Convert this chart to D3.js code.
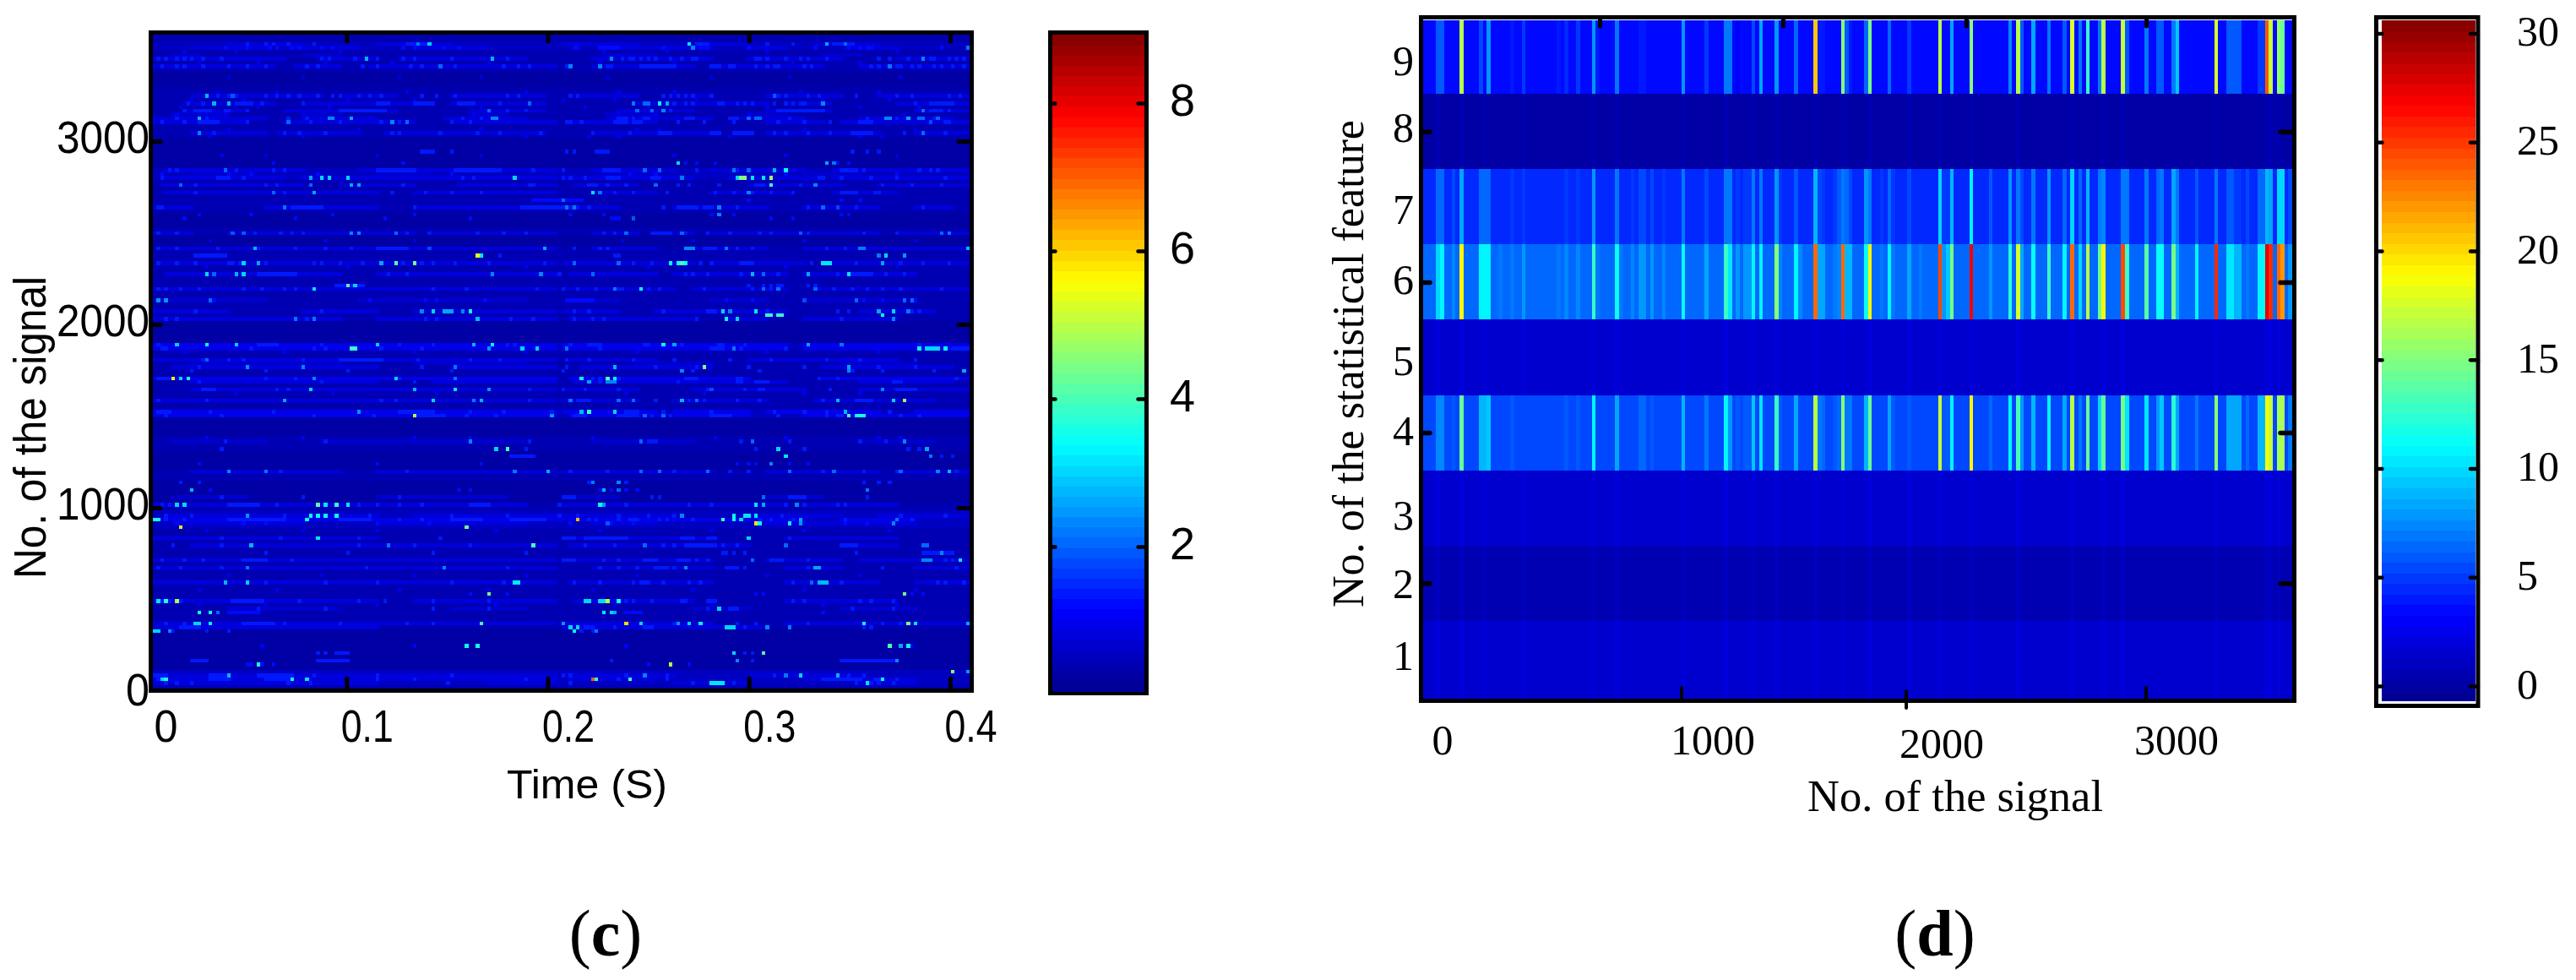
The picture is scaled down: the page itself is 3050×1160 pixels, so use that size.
<!DOCTYPE html>
<html>
<head>
<meta charset="utf-8">
<title>Signal maps</title>
<script src="https://cdn.jsdelivr.net/npm/d3@7/dist/d3.min.js"></script>
<style>
  html, body { margin: 0; padding: 0; background: #fff; }
  svg { display: block; }
  .sans text { font-family: "Liberation Sans", Arial, sans-serif; fill: #000; }
  .serif text { font-family: "Liberation Serif", "Times New Roman", serif; fill: #000; }
</style>
</head>
<body>
<svg id="chart" width="3050" height="1160"></svg>
<script>
// ---- panel (c) values ----
const timeTicks = [0, 0.1, 0.2, 0.3, 0.4];
const signalTicksC = [0, 1000, 2000, 3000];
const colorTicksC = [2, 4, 6, 8];

// background level of each row of the map, top row first
const rowBase = [
  .35,.35,.5,.5,.35,.35,.45,.45,.45,.35,.25,.25,.25,.25,.35,.35,.45,.45,.45,.45,.45,.45,.45,.45,.4,.4,.4,.4,.2,.2,.2,.2,.2,.2,.3,.3,
  .5,.5,.5,.45,.45,.45,.45,.35,.35,.4,.4,.4,.3,.3,.3,.3,.4,.4,.3,.3,.3,.4,.4,.4,.4,.4,.4,.4,.4,.4,.4,.4,
  .4,.35,.35,.35,.35,.45,.45,.45,.45,.25,.25,.25,.25,.25,.25,.5,.5,.45,.45,.45,.45,.45,.45,.45,.45,.45,.45,.45,.45,.4,.4,.4,.4,.55,.55,.2,.2,
  .2,.2,.2,.35,.35,.35,.35,.3,.3,.3,.3,.3,.35,.35,.35,.3,.3,.3,.3,.3,.3,.4,.4,.5,.5,.5,.5,.5,.4,.4,.4,.4,
  .4,.4,.4,.4,.4,.4,.35,.35,.35,.35,.35,.35,.4,.4,.4,.4,.4,.4,.4,.4,.4,.4,.4,.2,.2,.2,.2,.25,.25,.25,.25,.25,.25,
  .25,.5,.5,.5,.5,.35
];

// long faint stretches along the busier rows: row from the top, level, columns
const faintRows = [
  [2,.8,"20-40 60-80 110-130 145-160 178-195"],
  [3,.8,"10-30 35-55 70-90 120-150 160-170 186-200"],
  [5,.65,"5-12 40-50 120-135 180-190"],
  [6,.85,"0-35 44-60 66-100 118-150 160-185 200-219"],
  [8,.85,"0-32 38-50 58-108 118-145 150-180 190-219"],
  [16,.85,"10-45 50-65 80-105 112-130 140-150 165-185 195-219"],
  [18,.85,"8-32 40-70 80-105 130-165 170-182 200-219"],
  [20,.85,"8-25 35-65 85-105 125-145 165-182 205-219"],
  [21,.7,"5-20 40-50 85-95 122-135 160-170"],
  [22,.85,"0-30 40-60 78-100 122-150 155-175 190-215"],
  [23,.85,"0-25 35-70 80-108 111-135 165-180 185-219"],
  [26,.8,"10-30 33-55 62-105 118-150 165-195 205-219"],
  [36,.8,"3-40 55-108 118-140 150-175 183-219"],
  [37,.7,"10-25 60-75 120-135 175-190"],
  [38,.85,"3-35 40-108 110-145 155-180 183-219"],
  [40,.8,"2-40 50-70 82-108 113-130 160-185 195-219"],
  [42,.8,"3-60 70-108 118-135 150-172 183-200"],
  [46,.8,"0-10 30-60 70-108 110-125 140-165 175-195 205-215"],
  [53,.85,"0-10 20-70 75-108 118-130 134-145 150-195 200-219"],
  [57,.8,"2-108 118-135 143-165 175-219"],
  [61,.85,"2-108 110-145 150-175 180-219"],
  [64,.8,"3-50 60-108 112-135 140-170 175-205"],
  [68,.85,"0-108 110-140 145-170 178-219"],
  [71,.7,"0-30 55-100 112-125 150-165 175-205"],
  [74,.85,"0-20 40-60 70-108 110-125 135-170 190-210"],
  [76,.85,"0-50 60-108 112-145 155-165 175-200"],
  [83,.9,"0-108 110-170 175-219"],
  [84,.9,"0-108 110-170 175-219"],
  [87,.8,"0-108 112-135 160-200"],
  [88,.7,"10-50 70-100 130-150 185-205"],
  [89,.8,"5-60 80-108 115-150 180-215"],
  [92,.9,"0-108 112-160 180-219"],
  [93,.8,"10-60 75-108 113-170 190-215"],
  [95,.85,"10-108 110-130 145-175 190-219"],
  [98,.85,"0-108 110-130 140-165 178-210"],
  [101,.9,"0-108 110-135 140-160 165-195 205-219"],
  [102,.9,"0-108 112-160 175-219"],
  [109,.7,"5-30 45-100 118-145 190-210"],
  [117,.8,"10-50 60-108 110-150 165-195 200-219"],
  [124,.7,"5-25 60-95 110-125 165-180"],
  [126,.85,"0-100 110-170 175-200"],
  [129,.8,"3-60 70-108 110-140 160-185 195-219"],
  [130,.9,"0-110 112-175 185-205"],
  [131,.75,"5-40 60-100 118-135 165-205"],
  [135,.75,"0-60 110-150 170-200"],
  [137,.8,"10-108 112-160 185-200"],
  [141,.8,"0-108 110-150 165-185 190-219"],
  [143,.8,"0-108 118-150 170-185 205-219"],
  [147,.8,"0-108 112-150 170-195 205-219"],
  [152,.85,"0-60 70-108 113-145 170-200"],
  [154,.7,"20-50 80-100 145-160 185-205"],
  [158,.85,"0-108 110-150 170-219"],
  [159,.8,"0-60 110-165"],
  [172,.85,"0-108 110-140 160-190"],
  [173,.85,"0-108 112-135 175-205"],
  [174,.85,"0-60 90-108 140-160 190-205"]
];

// rows of lit cells: row from the top, level, columns
const litRows = [
  [2,1.3,"25 30 32 36 43 68-70 72 73 146-149 165 172 183-188"],
  [3,1.2,"19 25 31 33 37 39 45 48 67 70 78 82 113 114 120-125 137 147-149 160 178 187 190 192 193 212"],
  [4,1,"8 22 50 121 138 165 200"],
  [6,1.4,"1 3 6 8 10 13 18 45 47 54 60 67 70 80 95 126 128 129 131 133 135 139 142 145 146 162 163 165 170 174 176 181 195 198 203 209 210 214 216 218"],
  [7,1,"12 28 46 64 90 120 140 172 190"],
  [8,1.4,"2 6 8 13 20 25 30 41 44 56 60 69 72 81 94 98 101 111 120 122 123 131-140 150-152 155 156 162 165 167 168 175 177 193 195 200 201 204 206 210 212 215 218"],
  [11,.8,"20 40 66 88 122 150 171 201"],
  [15,1,"17 33 68 100 125 140 174 195"],
  [16,1.3,"17 20 22 30 33 36 39 44 48 50 55 58 61 72 76 81 95 98 112 114 137 139 141 143 145 150 167 168 170 176 179 189 200 204 214 217"],
  [17,1,"10 24 52 70 110 124 146 180 198"],
  [18,1.4,"9 13 22-26 29 40 60-63 70-75 82-86 93 138 140 143 145 152 153 157 159 161 167 170 172 174 175 205 209-215"],
  [19,1,"7 28 47 88 116 133 165 190 206"],
  [20,1.3,"8 11-15 19 20 25 50-62 90 95 100 139 168-180 209-212 214"],
  [21,1,"6 14 17 19 40 86 90 125 135 160 202"],
  [22,1.4,"6 14 36 41 47 83 88 125-127 129 132 133 143-145 155-157 171 192 200 210"],
  [23,1.3,"2 8 12-17 25 36 42 50 61 66 80 85 111 112 115 124-127 129-131 141 148 156 168 175 182 190-193 213 214"],
  [25,1,"20 55 88 130 136 175 205"],
  [26,1.4,"16 35 39 46 64 66 77 87 93 104 118 128 136-139 150-152 156-161 167 170 176 182 188-193 202 213"],
  [27,1,"15 40 100 117 125 155 190 196"],
  [31,1.3,"72-75 80 111 113 119-122 188 192 195"],
  [32,.9,"18 30 60 88 140 170 200"],
  [34,1.2,"32 67 143 146 151 183 184 187"],
  [36,1.4,"4 6 19 22 32 35 60-70 81-93 102 110 121-125 146 157 185-189 191 206 209 211"],
  [37,1.2,"2 20 26 44 80 128 135 170 200"],
  [38,1.4,"2 17-20 24 83 86 110 112 116 122-125 134-136 179 180 185 193 200 213"],
  [40,1.4,"11 30 33 42 67 101 102 117-119 122 127 141 144 152 162-164 174 196 204 212"],
  [42,1.3,"11 35 64 73 80 88 120 124 129 138 151 156 161 166 172 185-189 194 195"],
  [44,1.2,"102-114 115 160 185 190"],
  [46,1.4,"1 2 37-45 70 99-114 117 137 141-146 148-150 157 176 189 207"],
  [48,1.2,"12 26 48 70 112 121 150 156 185 187"],
  [49,1.2,"8 38 62 85 123-125 166 172"],
  [53,1.4,"1 6 24 27 34 37 40 65 68 74 87 94 100 121 124 134-139 143 149 155 163 166 174 176 191 200"],
  [55,1,"15 46 70 126 145 175 205"],
  [57,1.3,"1 6 17 28 38 46 53 60-68 113 120 122 148-151 157 161 181 186"],
  [59,1.3,"11-19 93 124 125"],
  [61,1.4,"1 6 11 20 21 23 30 43 45 50 56 67 72 75 81 90 105 113 125 129 134 147 150 158-161 177 189 201 207 214"],
  [62,1,"14 52 100 133 170 200"],
  [64,1.4,"28-38 63 68 109 143 145 149 158 168 184 188-193 197 202"],
  [67,1.4,"49-56 160 164 166 168 169 176 178"],
  [68,1.4,"1 3 7 12 24 29 35 38 75 84 103 110 114 119 124-126 133 136 148 161 166 183 188 192 196 201 212"],
  [71,1.2,"16 58 73 76 89 111-118 154 161 191 196 205"],
  [74,1.4,"11 45 113 117 137 149-151 165 184 187 204 206"],
  [76,1.4,"3 6 38 41 73 76 96 102 113 118 121 146 185"],
  [83,1.4,"1 28-33 45 66 75 86 95 97 112 117-120 132 133 142 152-153 159 206"],
  [84,1.4,"2 3 26 43 46 61 72 111 120 150-153 158 170 215-220"],
  [85,1,"8 35 70 100 130 165 195"],
  [87,1.3,"13 20 24 40 50-61 71 85 93 111 117 129 140 155 166 181 190 205"],
  [89,1.4,"12 25 40 72 81 111 124 135 146 160 175 195 205"],
  [90,1.3,"10 30 52 80 110 145 163 188 196 210"],
  [92,1.4,"1-4 30 38 66 115 118 120 125 143-146 157 158 179 184 216"],
  [93,1.4,"12 45 70 117 120 141 157 158 162-165 199-201"],
  [95,1.3,"13-16 33 36 101 110 116 125 149 150 159 163 164 182 200-205"],
  [96,1,"22 48 76 127 148 175 190"],
  [98,1.4,"1 14 35 61 65 101 114-117 135 144 148 157 163 180 189-193"],
  [101,1.4,"1-4 15 32 55 66-75 85 94 107 127-130 137 150 167 175 181 198"],
  [102,1.4,"3 18 43 59 70-78 84 92 113-116 125-130 134 137 139 150-155 168 181 184 185 201 206"],
  [108,1.1,"14 40 70 85 118 151 170 195 201"],
  [109,1.3,"19 46 85 101 133-135 158 171 190 197"],
  [111,1.3,"18 92 95 100 162 175 203 206"],
  [113,1.3,"96-102 209 212 215"],
  [115,1.2,"12 60 88 157 160 162 171 176"],
  [117,1.4,"34 68 97 112 122 131 136 140 155 160 180 191 200 216"],
  [120,1.3,"7 12 117 127 191 195 198"],
  [122,1.2,"15 82 85 120 123 127 130"],
  [124,1.3,"18 40 66 110-113 134 136 164 171-175 192"],
  [126,1.4,"2 4 20-28 33 55 60 66 72 85-90 109 127 144 150 170 173 175 184 186"],
  [129,1.3,"3 10 25 35 58 80 95 109 114 125 133 140 169 201 213"],
  [130,1.4,"0 3 8 20-35 50-58 66 72 80-88 96-105 117 119 125 128-130 136 138 145 163 166 172 186 204"],
  [131,1.2,"6 24 30 60 74 112 122 123 129 186 192"],
  [133,1,"14 40 60 92 120 150 175 198"],
  [135,1.3,"18 34 55 77 110-113 116-127 142-145 149-151 171"],
  [137,1.3,"5 18 55 70 85 116 124 132 137 140 143-151 153 157 185-189"],
  [139,1.3,"30 52 75 100 153 154 156 159 189 207-215"],
  [141,1.3,"2 8 13 24-30 37 110-113 121 125 132-135 141-144 146 149 166-169 176 213 215"],
  [143,1.3,"1 7 18 57 95 120 125 130 135-138 140 154-157 159 176 196 216"],
  [145,1,"20 45 70 100 130 165 190"],
  [147,1.3,"30 46 60 80 94 113 120 129 131-133 137 144 147 172 185 211 213 218"],
  [149,1,"12 33 66 90 118 145 175 205"],
  [150,1.2,"85 95 162 164 204 207"],
  [152,1.4,"1-4 7 21-29 39 55 62 75 90 125 127 129 134 142 143 149-151 172 175 190 193 199"],
  [153,1,"12 30 60 92 124 150 180 200"],
  [154,1.3,"28 46 75 90 149 155-157 188 199"],
  [155,1.2,"20-28 127-131 180"],
  [158,1.4,"3 8 24-32 35 50 68 75 140 157 162 176 196 201"],
  [159,1.4,"7-12 116-118 124 132-134 159 191 193"],
  [160,1.3,"5 14 20 115 118"],
  [164,1.1,"29 70 127 204"],
  [166,1.3,"44 46 49-52 159 161"],
  [168,1.3,"10-14 44-52 123 161 185-199"],
  [169,1.2,"25 26 29 32 139 133 144"],
  [172,1.4,"0-3 15-20 28-37 43 60 80 110 112 127 138 167 187 191"],
  [173,1.4,"1-3 15-20 30-37 60 70 100 125 138 180-190 194 195 200"],
  [174,1.4,"3 6 10 36 42 79 112 145 156 189 193 195 199"]
];

// single bright cells: row, column, value
const hotCells = [
  [2,71,2.2],[2,74,3],[2,144,3.2],[2,181,2.6],[2,186,2],[3,145,2.4],[3,219,2.2],[6,57,2.8],[6,91,2.8],[6,123,2.4],[6,207,2.4],
  [8,77,2],[8,112,2.4],[8,120,2.3],[8,198,2.2],[16,14,2.8],[16,21,1.9],[16,167,1.9],[18,16,2.8],[18,20,2.8],[18,101,2],
  [18,129,2.2],[18,132,2],[18,133,2],[18,136,3.4],[18,138,2.6],[18,180,2.4],[20,90,2],[20,130,2],[20,134,2],[20,137,2.4],[20,207,2],
  [22,12,2.8],[22,47,2.4],[22,48,2.4],[22,53,2.6],[22,91,2.4],[22,92,2.4],[22,160,2],[22,162,2],[22,163,2],[22,197,2.4],[22,198,2.4],
  [22,203,2.6],[22,206,2],[22,207,2],[22,211,2],[23,36,2],[23,64,2.4],[23,68,2],[23,209,1.8],[26,12,2.3],[26,207,2],
  [34,141,3],[34,181,2.6],[34,183,2.2],[36,19,2],[36,132,2],[36,136,2],[36,156,2.2],[36,160,2],[36,167,2.8],[36,170,3.4],
  [38,42,2.6],[38,45,3],[38,47,3],[38,52,3],[38,97,3],[38,142,2.2],[38,157,3],[38,158,4.5],[38,159,4.5],[38,161,3.2],[38,164,3.2],[38,166,4.8],
  [40,7,2],[40,42,2],[40,53,2.6],[40,55,2.6],[40,135,2],[40,166,3.8],[40,178,2.4],[42,32,2],[42,43,2.6],[42,118,3.2],[42,120,2.2],[42,160,2.3],
  [44,110,2],[46,35,2.2],[46,111,2.2],[46,113,2.2],[46,152,2.3],[46,180,2],[46,184,1.8],[48,152,2.3],[49,129,1.9],
  [53,21,1.9],[53,24,1.9],[53,53,2.4],[53,55,2.4],[53,65,2],[53,127,2],[53,142,2],[53,174,1.9],[53,212,2],[53,214,2.2],
  [57,27,2.8],[57,74,1.8],[57,105,2.6],[57,143,2.4],[57,144,2.4],[57,145,2.4],[57,154,2.2],[57,190,2.2],[57,191,2.2],[57,219,2.7],
  [59,87,5.4],[59,88,3.2],[59,195,2.2],[59,197,3],[59,202,2.5],
  [61,24,3],[61,28,2.6],[61,61,2.6],[61,65,4.2],[61,70,4.4],[61,113,2],[61,125,2],[61,139,3.4],[61,141,3.5],[61,142,4],[61,143,3.5],
  [61,180,3.2],[61,181,3.2],[61,182,3.2],[61,196,2.6],
  [64,14,3],[64,16,2],[64,22,2.7],[64,24,3],[64,91,2.4],[64,104,2.4],[64,118,2],[64,161,2.8],[64,164,2],[64,176,2.6],[64,187,3.2],
  [67,52,4.3],[67,54,3],[68,43,3.2],[68,124,2.2],[68,131,3.4],[68,164,2],[68,168,2.2],[68,178,2],[71,1,2.5],[71,3,2.5],[71,15,2],
  [71,175,1.8],[71,189,2],[71,202,2],[71,204,2],
  [74,72,2.4],[74,75,3],[74,78,2.6],[74,79,2.6],[74,80,2.6],[74,83,2.4],[74,85,3.4],[74,153,3],[74,155,2.4],[74,162,3.2],[74,195,2.6],[74,199,3],[74,203,2.2],
  [75,165,3.8],[75,166,3.8],[75,168,3.8],[75,169,3.8],[75,196,3.4],
  [76,38,2.2],[76,43,2.2],[76,87,2.8],[76,154,3.4],[76,157,3],[76,199,2.4],
  [83,6,3],[83,14,3.4],[83,22,3],[83,60,3],[83,86,2.8],[83,91,3.4],[83,137,3.4],[83,140,2.6],[83,176,2.6],[83,185,2.2],
  [84,53,3.8],[84,54,3.8],[84,90,2.5],[84,99,3],[84,103,3],[84,111,2.2],[84,156,2.2],[84,206,3.4],[84,208,3],[84,209,3],[84,210,3],[84,211,3],[84,213,3.5],
  [87,14,2],[89,25,2.5],[89,40,2.3],[89,81,2.2],[89,124,2.8],[89,148,4.5],[89,187,2.6],[90,142,2.4],[90,187,2.4],[90,218,2.6],
  [92,5,5.6],[92,7,3],[92,9,3.6],[92,43,2.4],[92,65,3],[92,81,2.2],[92,115,3.4],[92,122,4.2],[92,124,3.4],
  [93,117,2.6],[93,122,2.4],[93,123,2.4],[93,124,2.4],[95,42,3],[95,70,2.8],[95,81,3.2],[95,90,2.5],[95,150,1.8],[95,196,2.4],
  [98,35,2.6],[98,75,3],[98,86,2.2],[98,88,2.8],[98,112,2.2],[98,125,2],[98,129,2],[98,142,2.7],[98,146,2],[98,184,2.8],[98,199,3],[98,202,4.8],
  [101,55,2.5],[101,115,2.8],[101,117,3.8],[101,124,3],[101,186,2.8],[102,70,5],[102,107,2.5],[102,132,2],[102,137,2],[102,187,4],[102,189,3.6],[102,190,3.6],[102,191,3.6],
  [109,85,2.4],[109,131,2],[109,161,2],[109,202,2.4],[111,92,3],[111,95,4],[111,168,3],[111,208,2.6],[113,170,3.2],[113,209,2.2],[115,166,2.4],
  [117,20,2.4],[117,30,2.2],[117,97,2.2],[117,106,2.6],[117,131,2],[117,136,2],[117,149,2],[117,171,2],[117,183,2],[117,201,2],[117,211,2.3],[117,214,2.8],
  [120,118,2.2],[120,125,2.4],[122,10,2.8],[122,121,2.8],[122,125,2],[122,192,2.2],[124,164,2],
  [126,6,3],[126,8,3],[126,44,4.2],[126,46,3.2],[126,49,3.8],[126,52,3.2],[126,120,3.4],[126,121,2.5],[126,162,3.2],[126,164,2.6],[126,173,2.4],
  [129,25,2.5],[129,42,3.4],[129,44,3.4],[129,46,3.4],[129,49,3.4],[129,142,2.4],[129,156,3.4],[129,159,3.2],[129,160,3.2],[129,162,3.2],
  [130,0,3.6],[130,1,3.6],[130,41,3.4],[130,114,6.2],[130,153,4],[130,156,3.6],[130,158,3],[130,174,2.6],[130,200,2.2],
  [131,122,1.9],[131,162,5.8],[131,163,3.4],[131,171,3.4],[131,174,2.5],[131,199,2.4],
  [132,7,5.8],[132,84,4.4],[135,44,3.2],[135,160,3],[137,26,2.7],[137,63,2.2],[137,102,4],[137,132,2],[137,170,2],[137,207,2],[137,208,2],
  [139,212,2.4],[141,161,2],[141,207,2.4],[141,208,2.4],[141,209,2.4],[141,217,3.2],[143,25,2.2],[143,78,2.3],[143,143,2.4],[143,178,2.6],[143,179,2.6],
  [147,19,2.8],[147,25,3],[147,97,3.2],[147,98,3.2],[147,177,2],[147,179,2.8],[147,180,2.8],[147,181,2.8],[150,90,4.4],[150,202,4.4],
  [152,1,3.2],[152,3,3.7],[152,6,4.8],[152,116,3],[152,117,3],[152,120,3],[152,121,3],[152,122,5],[152,125,3.4],[154,152,3],
  [155,12,3.4],[155,15,3.4],[155,17,2],[155,121,3.2],[155,123,3],[155,124,2.6],
  [158,11,3],[158,12,3],[158,15,3.5],[158,88,4],[158,110,2.5],[158,127,6],[158,131,3],[158,141,2.5],[158,144,3],[158,147,3.4],[158,191,3.4],[158,203,4.6],[158,205,3.2],[158,219,2.6],
  [159,112,3],[159,114,3],[159,154,3],[159,155,3],[159,156,3],[159,165,2.4],[159,171,2.2],
  [160,0,3],[160,1,3],[160,4,2.4],[160,113,3.4],[160,119,2.2],
  [164,84,3.4],[164,87,3.6],[164,198,4],[164,201,2.6],[164,203,3.4],[166,156,3],[166,164,4.2],[168,157,2.4],[168,200,2.4],
  [169,28,3.6],[169,139,5],[171,215,4.6],[171,219,2.5],[172,20,2.8],[172,132,2.4],[172,170,2.2],[172,174,3],[172,184,2.8],
  [173,2,3],[173,3,3.6],[173,37,3.4],[173,41,3.2],[173,118,7],[173,119,3.8],[173,128,4],[173,196,3.4],
  [174,150,3.2],[174,151,3.2],[174,152,3.2],[174,153,3.2],[174,192,3.2]
];

// ---- panel (d) values ----
const signalTicksD = [0, 1000, 2000, 3000];
const signalTopTicksD = [647, 1436, 2225, 3000];
const featureTicks = [1, 2, 3, 4, 5, 6, 7, 8, 9];
const colorTicksD = [0, 5, 10, 15, 20, 25, 30];

const featureBands = [1, 2, 3, 4, 5, 6, 7, 8, 9];
const bandBase = [1.3, 0.7, 1.3, 5.4, 1.6, 6.2, 4.4, 0.2, 3.3];

// the four lit bands share their stripes: column and value in each band
const stripeCols = [4,5,8,10,15,16,17,20,23,26,35,37,40,44,45,50,51,54,56,57,59,62,67,73,75,78,79,81,83,84,85,87,91,92,96,97,101,102,103,106,107,108,109,110,112,114,115,118,120,121,125,128,133,134,135,136,141,146,151,153,154,157,161,165,167,169,171,174,175,180,181,186,189,190,193,194,199,204,207,208,209,210,212,215,216,217,218,220,221,223];
const stripeF9 = [5.9,5.9,3.6,16.7,5.5,3.5,7.9,3.3,3.8,5,3.8,4.5,5,7.9,4,7,3.6,3.3,4,4,3.6,3.6,8,5,3.3,6.8,6.8,3.1,3.6,3.6,5.5,8.4,8,3.6,6.3,3.6,20.6,3.8,3.8,3.6,3.6,15,6,3.8,3.4,6.2,14.8,3.6,6.2,3.7,5,3.7,16.5,3.4,3.4,8.4,15,3.6,7.5,16.5,6,8.4,7,5.8,17.5,7,13,7,16.7,17,5.8,6.8,5.8,5.8,7,9.5,3.4,17.8,6,6,6,6,3.6,4.8,4.8,24,17,15.8,14.4,3.3];
const stripeF7 = [6.3,6.3,5.5,8.4,6.3,6.3,6.3,4.6,5,4.8,4.6,5,5,7.9,4.6,6.7,4.6,5,5.6,5.6,5.4,4.8,6.9,5.5,4.3,7,7,5,5,5,7,6.7,8,5,5.8,4.5,9,5.4,5,5,6,7,6.3,5.4,4.3,8,7,5,6.2,5,5.4,4.7,10,5,5,9,11,6,8,7,5.5,7,8,6.2,10,6.2,8.7,7,7.5,7,7,7,6.2,7,8.3,7,5.8,7,6,6,5.2,5.2,5.6,6.2,6.2,8.8,8.3,10,10,5.5];
const stripeF6 = [9.7,10.6,7.2,19.3,11,11,11,7,7,8,6.8,7.2,7.4,13,7,11.5,7,7.5,8,8,8,7.2,11.5,8.3,6.6,13,10.5,8,8,8,11,11,15.3,7.5,11,7.2,23.7,8.3,8.3,7,7.5,23.7,9,9,6.5,11.5,19.3,6.8,11,7,8.3,6.7,24.7,8,9.5,14.5,26.7,8,12.5,17.5,8.3,11.5,13,10.6,23.4,9.8,16.5,14.3,18.9,24.5,13,13.8,11.3,11.3,14.6,9,10.6,25.5,10.5,10.5,9,9,7,11,11,27.5,25.7,23.7,22,8];
const stripeF4 = [7.2,7.2,5.9,14,9,9,9.4,5.4,5.8,5.6,5.4,5.8,5.8,11,5.5,8.4,5.4,5.6,6.5,6.5,6,5.5,9,7,5.3,11,8,6,6,6,9.5,10.5,12.7,5.7,8.4,5.3,16.9,7,6.5,5.8,6.5,15,7,6.8,5.3,9,14.4,5.5,8.4,5.8,6,5.4,17,5.8,6,11,19,6.5,11,13.5,7.8,9,11,8.4,16.5,7,14,9.8,14.3,14.5,10.5,10.5,8,9.5,12.5,8.4,7,15.4,8.4,8.4,8.4,8.4,6.6,9,9,18.5,17,16,16,7];

// faint traces of the strongest stripes in the dark bands
const darkCols = [4,10,16,26,44,50,67,78,85,91,101,108,115,125,133,141,153,167,175,180,204,217,218,220];
const darkStripe = [2, 1.2, 2, null, 2.1, null, null, 0.7, null];
const columnCountD = 224;

// ---- layout ----
const plotC = { left: 181, right: 1148, top: 41, bottom: 815 };
const barC = { left: 1246, right: 1355, top: 41, bottom: 818 };
const plotD = { left: 1685, right: 2714, top: 24, bottom: 827 };
const barD = { left: 2820, right: 2931, top: 24, bottom: 829 };
const rowCountC = 176, columnCountC = 220;
const xLabelShiftD = [-8, 37, 33, 36];
const xTickShiftD = [0, 0, -9, 0];
const yLabelBaselineD = [13, 17, 25, 14, 20, 14, 20, 12, 22];
const frameWidth = 5;

const svg = d3.select("#chart");
svg.append("rect").attr("width", 3050).attr("height", 1160).attr("fill", "#fff");

// 64 step jet colormap, like the one in the figure
const jet = d3.scaleLinear()
  .domain([0, 0.125, 0.375, 0.625, 0.875, 1])
  .range(["rgb(0,0,143)", "rgb(0,0,255)", "rgb(0,255,255)", "rgb(255,255,0)", "rgb(255,0,0)", "rgb(128,0,0)"]);

function colormap(min, max) {
  return d3.scaleQuantize().domain([min, max]).range(d3.range(64).map(i => jet((i + 0.5) / 64)));
}

function parseCols(spec) {
  const out = [];
  spec.split(" ").forEach(part => {
    const [a, b] = part.split("-").map(Number);
    if (b === undefined) out.push(a);
    else for (let c = a; c <= b; c++) out.push(c);
  });
  return out;
}

function styleTicks(axisG, width) {
  axisG.select(".domain").remove();
  axisG.selectAll("line").attr("stroke", "#000").attr("stroke-width", width).attr("stroke-linecap", "round");
}

function addColorbar(g, box, yScale, color, ticks, labelX, labelSize, labelOffset, frame, leftTick, rightTick) {
  const levels = d3.range(64);
  const step = (yScale.domain()[1] - yScale.domain()[0]) / 64;
  g.append("rect").attr("x", frame.x).attr("y", frame.y).attr("width", frame.w).attr("height", frame.h)
    .attr("fill", "#fff").attr("stroke", "#000").attr("stroke-width", frameWidth);
  g.append("g").attr("shape-rendering", "crispEdges").selectAll("rect").data(levels).join("rect")
    .attr("x", box.left).attr("width", box.right - box.left)
    .attr("y", i => yScale(yScale.domain()[0] + (i + 1) * step))
    .attr("height", (box.bottom - box.top) / 64 + 0.6)
    .attr("fill", i => color(yScale.domain()[0] + (i + 0.5) * step));
  const left = g.append("g").attr("transform", `translate(${frame.x},0)`)
    .call(d3.axisLeft(yScale).tickValues(ticks).tickSizeInner(-leftTick).tickSizeOuter(0).tickFormat(""));
  styleTicks(left, 4.5);
  const right = g.append("g").attr("transform", `translate(${frame.x + frame.w},0)`)
    .call(d3.axisRight(yScale).tickValues(ticks).tickSizeInner(-rightTick).tickSizeOuter(0).tickFormat(""));
  styleTicks(right, 4.5);
  g.selectAll(".bar-label").data(ticks).join("text").attr("class", "bar-label")
    .attr("x", labelX).attr("y", d => yScale(d) + labelOffset)
    .attr("font-size", labelSize).text(d => d);
}

// ---- panel (c) ----
const gC = svg.append("g").attr("class", "sans");
const xCellC = d3.scaleLinear().domain([0, columnCountC]).range([plotC.left, plotC.right]);
const yCellC = d3.scaleLinear().domain([0, rowCountC]).range([plotC.top, plotC.bottom]);
const xTime = d3.scaleLinear().domain([0, 0.4]).range([172, 1125]);
const ySignal = d3.scaleLinear().domain([0, 3000]).range([818, 167]);
const yBarC = d3.scaleLinear().domain([0.046, 8.926]).range([barC.bottom, barC.top]);
const colorC = colormap(0.046, 8.926);

const cellsC = [];
faintRows.forEach(([row, level, spec]) => parseCols(spec).forEach(col => cellsC.push({ row, col, v: level })));
litRows.forEach(([row, level, spec]) => parseCols(spec).forEach(col => cellsC.push({ row, col, v: level })));
hotCells.forEach(([row, col, v]) => cellsC.push({ row, col, v }));

const mapC = gC.append("g").attr("shape-rendering", "crispEdges");
mapC.selectAll(".row").data(rowBase).join("rect").attr("class", "row")
  .attr("x", plotC.left).attr("width", plotC.right - plotC.left)
  .attr("y", (d, i) => yCellC(i)).attr("height", yCellC(1) - yCellC(0) + 0.6)
  .attr("fill", d => colorC(d));
mapC.selectAll(".cell").data(cellsC).join("rect").attr("class", "cell")
  .attr("x", d => xCellC(d.col)).attr("y", d => yCellC(d.row))
  .attr("width", xCellC(1) - xCellC(0)).attr("height", yCellC(1) - yCellC(0))
  .attr("fill", d => colorC(d.v));

gC.append("rect").attr("x", plotC.left - 2.5).attr("y", plotC.top - 2.5)
  .attr("width", plotC.right - plotC.left + 5).attr("height", plotC.bottom - plotC.top + 5)
  .attr("fill", "none").attr("stroke", "#000").attr("stroke-width", frameWidth);

const xAxisC = gC.append("g").attr("transform", `translate(0,${plotC.bottom})`)
  .call(d3.axisBottom(xTime).tickValues(timeTicks).tickSizeInner(-12).tickSizeOuter(0).tickPadding(0).tickFormat(d => d));
styleTicks(xAxisC, 5);
xAxisC.selectAll("line").filter(d => d === 0).remove();
xAxisC.selectAll("text").attr("font-size", 54).attr("font-family", null).attr("dy", null).attr("x", 24).attr("y", 63)
  .attr("textLength", d => d === 0 ? 28 : 62).attr("lengthAdjust", "spacingAndGlyphs");

const xTopC = gC.append("g").attr("transform", `translate(0,${plotC.top})`)
  .call(d3.axisTop(xTime).tickValues([0.1, 0.2, 0.3, 0.4]).tickSizeInner(-8).tickSizeOuter(0).tickFormat(""));
styleTicks(xTopC, 5);

const yAxisC = gC.append("g").attr("transform", `translate(${plotC.left},0)`)
  .call(d3.axisLeft(ySignal).tickValues(signalTicksC).tickSizeInner(-9).tickSizeOuter(0).tickFormat(d => d));
styleTicks(yAxisC, 5);
yAxisC.selectAll("line").filter(d => d === 0).remove();
yAxisC.selectAll("text").attr("font-size", 54).attr("font-family", null).attr("dy", null).attr("x", -4)
  .attr("y", d => d === 0 ? 16 : 13).attr("text-anchor", "end")
  .attr("textLength", d => d === 0 ? 28 : 110).attr("lengthAdjust", "spacingAndGlyphs");

const yRightC = gC.append("g").attr("transform", `translate(${plotC.right},0)`)
  .call(d3.axisRight(ySignal).tickValues([1000, 2000, 3000]).tickSizeInner(-13).tickSizeOuter(0).tickFormat(""));
styleTicks(yRightC, 5);

gC.append("text").attr("x", 695).attr("y", 945).attr("text-anchor", "middle").attr("font-size", 49)
  .attr("textLength", 190).attr("lengthAdjust", "spacingAndGlyphs").text("Time (S)");
gC.append("text").attr("transform", "translate(54,685) rotate(-90)").attr("font-size", 53)
  .attr("textLength", 358).attr("lengthAdjust", "spacingAndGlyphs").text("No. of the signal");

addColorbar(gC, barC, yBarC, colorC, colorTicksC, 1385, 54, 15,
  { x: 1243.5, y: 38.5, w: 114, h: 782 }, 6, 10);

// ---- panel (d) ----
const gD = svg.append("g").attr("class", "serif");
const xCellD = d3.scaleLinear().domain([0, columnCountD]).range([1682, 2714]);
const xSignal = d3.scaleLinear().domain([-113, 3629]).range([plotD.left, plotD.right]);
const yFeature = d3.scaleLinear().domain([0.5, 9.5]).range([824, 22]);
const yBarD = d3.scaleLinear().domain([-0.66, 30.6]).range([barD.bottom, barD.top]);
const colorD = colormap(-0.66, 30.6);

const bandStripes = { 4: stripeF4, 6: stripeF6, 7: stripeF7, 9: stripeF9 };
const cellsD = [];
featureBands.forEach((band, b) => {
  const values = d3.range(columnCountD).map(() => bandBase[b]);
  if (bandStripes[band]) stripeCols.forEach((col, i) => { values[col] = bandStripes[band][i]; });
  else darkCols.forEach(col => { values[col] = darkStripe[b]; });
  values.forEach((v, col) => cellsD.push({ band, col, v }));
});

gD.append("g").attr("shape-rendering", "crispEdges").selectAll("rect").data(cellsD).join("rect")
  .attr("x", d => Math.max(xCellD(d.col), plotD.left))
  .attr("width", d => xCellD(d.col + 1) - Math.max(xCellD(d.col), plotD.left) + 0.4)
  .attr("y", d => Math.max(yFeature(d.band + 0.5), plotD.top))
  .attr("height", d => (d.band === 1 ? plotD.bottom : yFeature(d.band - 0.5)) - Math.max(yFeature(d.band + 0.5), plotD.top))
  .attr("fill", d => colorD(d.v));

gD.append("rect").attr("x", plotD.left - 2.5).attr("y", plotD.top - 3.5)
  .attr("width", plotD.right - plotD.left + 5).attr("height", plotD.bottom - plotD.top + 6)
  .attr("fill", "none").attr("stroke", "#000").attr("stroke-width", frameWidth);

const xAxisD = gD.append("g").attr("transform", `translate(0,${plotD.bottom})`)
  .call(d3.axisBottom(xSignal).tickValues(signalTicksD).tickSizeInner(-13).tickSizeOuter(0).tickPadding(0).tickFormat(d => d));
styleTicks(xAxisD, 4);
xAxisD.selectAll(".tick").attr("transform", (d, i) => `translate(${xSignal(d) + xTickShiftD[i]},0)`);
xAxisD.selectAll("line").filter(d => d === 0).remove();
xAxisD.selectAll("line").filter(d => d === 2000).attr("y1", 11).attr("y2", -9);
xAxisD.selectAll("text").attr("font-size", 50).attr("font-family", null).attr("dy", null)
  .attr("x", (d, i) => xLabelShiftD[i] - xTickShiftD[i]).attr("y", d => d === 2000 ? 70 : 66);

const xTopD = gD.append("g").attr("transform", `translate(0,${plotD.top - 1})`)
  .call(d3.axisTop(xSignal).tickValues(signalTopTicksD).tickSizeInner(-8).tickSizeOuter(0).tickFormat(""));
styleTicks(xTopD, 5);

const yAxisD = gD.append("g").attr("transform", `translate(${plotD.left},0)`)
  .call(d3.axisLeft(yFeature).tickValues(featureTicks).tickSizeInner(-8).tickSizeOuter(0).tickFormat(d => d));
styleTicks(yAxisD, 5.5);
yAxisD.selectAll("line").filter(d => d % 2 === 1).remove();
yAxisD.selectAll("text").attr("font-size", 50).attr("font-family", null).attr("dy", null).attr("x", -11)
  .attr("y", (d, i) => yLabelBaselineD[i]).attr("text-anchor", "end");

const yRightD = gD.append("g").attr("transform", `translate(${plotD.right},0)`)
  .call(d3.axisRight(yFeature).tickValues([2, 4, 6, 8]).tickSizeInner(-14).tickSizeOuter(0).tickFormat(""));
styleTicks(yRightD, 5.5);

gD.append("text").attr("x", 2315).attr("y", 960).attr("text-anchor", "middle").attr("font-size", 52)
  .attr("textLength", 350).attr("lengthAdjust", "spacingAndGlyphs").text("No. of the signal");
gD.append("text").attr("transform", "translate(1614,719) rotate(-90)").attr("font-size", 52)
  .attr("textLength", 577).attr("lengthAdjust", "spacingAndGlyphs").text("No. of the statistical feature");

addColorbar(gD, barD, yBarD, colorD, colorTicksD, 2980, 50, 15,
  { x: 2813.5, y: 20.5, w: 120.5, h: 815 }, 7, 9);

// ---- panel captions ----
const captions = svg.append("g").attr("class", "serif");
[["c", 717], ["d", 2291]].forEach(([letter, x]) => {
  const t = captions.append("text").attr("x", x).attr("y", 1131).attr("text-anchor", "middle").attr("font-size", 78);
  t.append("tspan").text("(");
  t.append("tspan").attr("font-weight", "bold").text(letter);
  t.append("tspan").text(")");
});
</script>
</body>
</html>
